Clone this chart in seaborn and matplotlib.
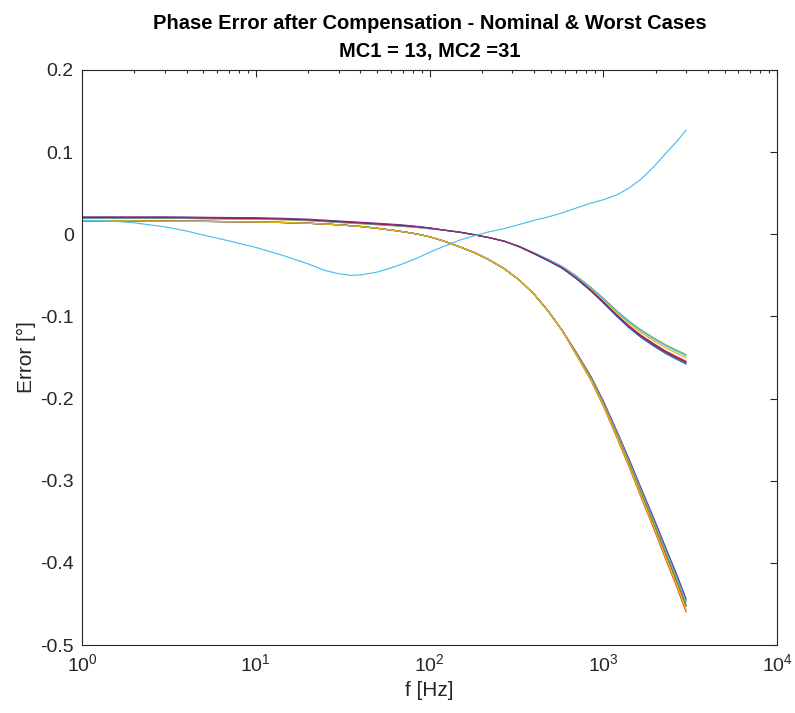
import matplotlib
matplotlib.use("Agg")
import matplotlib.pyplot as plt
import numpy as np
import pandas as pd
import seaborn as sns
from matplotlib.ticker import FixedLocator, LogLocator, NullFormatter, FuncFormatter

# Frequency grid [Hz]
freq = [1, 1.5, 2, 3, 4, 5, 7, 10, 14, 20, 25, 30, 35, 40, 50, 60, 70, 85, 100,
        120, 150, 180, 220, 270, 330, 400, 480, 580, 700, 850, 1000, 1200, 1400,
        1650, 1950, 2300, 2650, 3000]

# Single compensated case that dips and then rises above zero
case_rise = [0.017, 0.016, 0.014, 0.009, 0.004, -0.001, -0.008, -0.016, -0.025, -0.036,
             -0.044, -0.048, -0.050, -0.0495, -0.046, -0.041, -0.036, -0.029, -0.022,
             -0.015, -0.007, -0.002, 0.003, 0.007, 0.012, 0.017, 0.021, 0.026, 0.032,
             0.038, 0.042, 0.048, 0.056, 0.067, 0.082, 0.099, 0.113, 0.127]

# Family 1: curves settling around -0.15 at 3 kHz
fam1 = {
    "f1_blue":   [0.0205, 0.0205, 0.0205, 0.0205, 0.0203, 0.0200, 0.0197, 0.0195, 0.0188, 0.0177, 0.0165, 0.0155, 0.0147, 0.0140, 0.0127, 0.0117, 0.0107, 0.0093, 0.0077,
                  0.0052, 0.0025, -0.0005, -0.0040, -0.0085, -0.0154, -0.0237, -0.0321, -0.0414, -0.0541, -0.0693, -0.0835, -0.1002, -0.1134, -0.1256, -0.1361, -0.1455, -0.1523, -0.1580],
    "f1_orange": [0.0200, 0.0200, 0.0200, 0.0200, 0.0198, 0.0195, 0.0192, 0.0190, 0.0183, 0.0172, 0.0160, 0.0150, 0.0142, 0.0135, 0.0122, 0.0112, 0.0102, 0.0088, 0.0072,
                  0.0052, 0.0025, -0.0005, -0.0040, -0.0085, -0.0152, -0.0234, -0.0315, -0.0407, -0.0531, -0.0679, -0.0818, -0.0981, -0.1110, -0.1228, -0.1330, -0.1423, -0.1489, -0.1545],
    "f1_yellow": [0.0195, 0.0195, 0.0195, 0.0195, 0.0193, 0.0190, 0.0187, 0.0185, 0.0178, 0.0167, 0.0155, 0.0145, 0.0137, 0.0130, 0.0117, 0.0107, 0.0097, 0.0083, 0.0067,
                  0.0052, 0.0025, -0.0005, -0.0040, -0.0085, -0.0150, -0.0230, -0.0310, -0.0399, -0.0519, -0.0663, -0.0798, -0.0957, -0.1082, -0.1196, -0.1296, -0.1385, -0.1450, -0.1505],
    "f1_green":  [0.0195, 0.0195, 0.0195, 0.0195, 0.0193, 0.0190, 0.0187, 0.0185, 0.0178, 0.0167, 0.0155, 0.0145, 0.0137, 0.0130, 0.0117, 0.0107, 0.0097, 0.0083, 0.0067,
                  0.0052, 0.0025, -0.0005, -0.0040, -0.0085, -0.0148, -0.0225, -0.0303, -0.0391, -0.0506, -0.0647, -0.0777, -0.0933, -0.1053, -0.1164, -0.1261, -0.1348, -0.1411, -0.1465],
    "f1_cyan":   [0.0198, 0.0198, 0.0198, 0.0198, 0.0196, 0.0193, 0.0190, 0.0188, 0.0181, 0.0170, 0.0158, 0.0148, 0.0140, 0.0133, 0.0120, 0.0110, 0.0100, 0.0086, 0.0070,
                  0.0052, 0.0025, -0.0005, -0.0040, -0.0085, -0.0148, -0.0227, -0.0305, -0.0394, -0.0511, -0.0653, -0.0785, -0.0942, -0.1064, -0.1176, -0.1274, -0.1362, -0.1426, -0.1480],
    "f1_red":    [0.0203, 0.0203, 0.0203, 0.0203, 0.0201, 0.0198, 0.0195, 0.0193, 0.0186, 0.0175, 0.0163, 0.0153, 0.0145, 0.0138, 0.0125, 0.0115, 0.0105, 0.0091, 0.0075,
                  0.0052, 0.0025, -0.0005, -0.0040, -0.0085, -0.0152, -0.0235, -0.0317, -0.0409, -0.0534, -0.0683, -0.0823, -0.0987, -0.1117, -0.1236, -0.1339, -0.1432, -0.1499, -0.1555],
    "f1_purple": [0.0212, 0.0212, 0.0212, 0.0212, 0.0210, 0.0207, 0.0204, 0.0202, 0.0195, 0.0184, 0.0172, 0.0162, 0.0154, 0.0147, 0.0134, 0.0124, 0.0114, 0.0096, 0.0078,
                  0.0052, 0.0025, -0.0005, -0.0040, -0.0085, -0.0153, -0.0236, -0.0318, -0.0411, -0.0537, -0.0687, -0.0828, -0.0993, -0.1124, -0.1244, -0.1348, -0.1441, -0.1508, -0.1565],
}

# Family 2: common low-frequency part (1 Hz .. 580 Hz) ...
fam2_head = [0.0165, 0.0164, 0.0163, 0.0160, 0.0158, 0.0157, 0.0154, 0.0150, 0.0144, 0.0134,
             0.0125, 0.0115, 0.0105, 0.0095, 0.0073, 0.0052, 0.0032, 0.0003, -0.0030, -0.0080,
             -0.0155, -0.0220, -0.0310, -0.0420, -0.0560, -0.0730, -0.0930, -0.1170]
# ... and the spread-out roll-off (700 Hz .. 3 kHz) of each curve
fam2_tail = {
    "f2_blue":   [-0.1442, -0.1738, -0.2034, -0.2410, -0.2736, -0.3102, -0.3468, -0.3844, -0.4162, -0.4460],
    "f2_orange": [-0.1470, -0.1780, -0.2090, -0.2480, -0.2820, -0.3200, -0.3580, -0.3970, -0.4295, -0.4600],
    "f2_purple": [-0.1438, -0.1732, -0.2026, -0.2400, -0.2724, -0.3088, -0.3452, -0.3826, -0.4143, -0.4440],
    "f2_cyan":   [-0.1446, -0.1744, -0.2042, -0.2420, -0.2748, -0.3116, -0.3484, -0.3862, -0.4181, -0.4480],
    "f2_red":    [-0.1456, -0.1759, -0.2062, -0.2445, -0.2778, -0.3151, -0.3524, -0.3907, -0.4229, -0.4530],
    "f2_green":  [-0.1452, -0.1753, -0.2054, -0.2435, -0.2766, -0.3137, -0.3508, -0.3889, -0.4210, -0.4510],
    "f2_yellow": [-0.1464, -0.1771, -0.2078, -0.2465, -0.2802, -0.3179, -0.3556, -0.3943, -0.4267, -0.4570],
}

# MATLAB-style line colours
line_colors = {
    "blue": "#0072BD", "orange": "#D95319", "yellow": "#EDB120", "purple": "#7E2F8E",
    "green": "#77AC30", "cyan": "#4DBEEE", "red": "#A2142F",
}

y_ticks = [-0.5, -0.4, -0.3, -0.2, -0.1, 0, 0.1, 0.2]
y_tick_labels = ["-0.5", "-0.4", "-0.3", "-0.2", "-0.1", "0", "0.1", "0.2"]
x_ticks = [1, 10, 100, 1000, 10000]

title_text = "Phase Error after Compensation - Nominal & Worst Cases\nMC1 = 13, MC2 =31"

# Long-form table for seaborn
series = {}
series.update(fam1)
for name, tail in fam2_tail.items():
    series[name] = fam2_head + tail
series["single_cyan"] = case_rise

rows = []
for name, vals in series.items():
    for f, v in zip(freq, vals):
        rows.append({"f": f, "err": v, "curve": name})
df = pd.DataFrame(rows)
order = list(series.keys())
palette = {name: line_colors[name.split("_")[1]] for name in order}

sns.set_theme(style="white")
plt.rcParams["font.family"] = ["Liberation Sans", "DejaVu Sans"]
plt.rcParams["axes.unicode_minus"] = False
plt.rcParams["mathtext.default"] = "regular"

fig = plt.figure(figsize=(7.95, 7.13), dpi=100)
ax = fig.add_axes([82 / 795, 1 - 645 / 713, 695 / 795, 575 / 713])

sns.lineplot(data=df, x="f", y="err", hue="curve", hue_order=order, palette=palette,
             estimator=None, sort=False, legend=False, linewidth=0.85, ax=ax)

ax.set_xscale("log")
ax.set_xlim(1, 1e4)
ax.set_ylim(-0.5, 0.2)
ax.xaxis.set_major_locator(FixedLocator(x_ticks))
ax.xaxis.set_major_formatter(FuncFormatter(lambda v, p: r"$10^{%d}$" % round(np.log10(v))))
ax.xaxis.set_minor_locator(LogLocator(base=10, subs=np.arange(2, 10), numticks=20))
ax.xaxis.set_minor_formatter(NullFormatter())
ax.set_yticks(y_ticks)
ax.set_yticklabels(y_tick_labels)

dark = "#262626"
for sp in ax.spines.values():
    sp.set_visible(True)
    sp.set_color(dark)
    sp.set_linewidth(0.8)
ax.tick_params(which="both", direction="in", top=True, right=True, colors=dark,
               labelsize=14, width=0.8)
ax.tick_params(which="major", length=5, pad=6)
ax.tick_params(which="minor", length=2.5)

ax.set_xlabel("f [Hz]", fontsize=15, color=dark, labelpad=4)
ax.set_ylabel("Error [°]", fontsize=15, color=dark, labelpad=3)
ax.set_title(title_text, fontsize=14.5, fontweight="bold", color="black", pad=9.5, linespacing=1.58)

fig.savefig("out.png", dpi=100, facecolor="white")
